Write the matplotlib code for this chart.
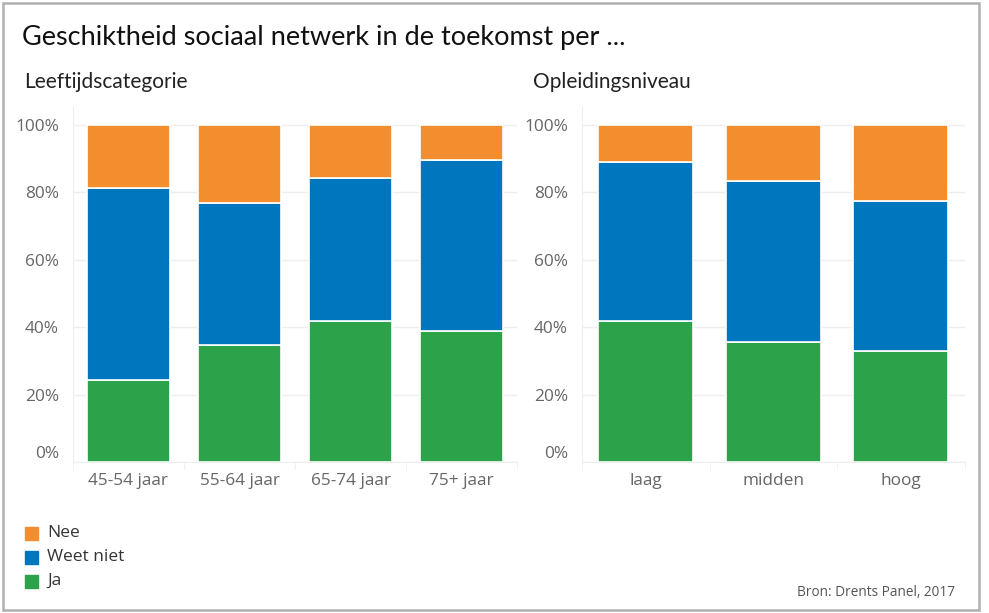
import matplotlib.pyplot as plt
from matplotlib.patches import Rectangle
from matplotlib.ticker import PercentFormatter

# Data (fractions per category)
leeftijd_cats = ["45-54 jaar", "55-64 jaar", "65-74 jaar", "75+ jaar"]
leeftijd_ja = [0.243, 0.347, 0.418, 0.389]
leeftijd_weet = [0.570, 0.422, 0.425, 0.507]
leeftijd_nee = [0.187, 0.231, 0.157, 0.104]

opleiding_cats = ["laag", "midden", "hoog"]
opleiding_ja = [0.418, 0.356, 0.329]
opleiding_weet = [0.472, 0.478, 0.445]
opleiding_nee = [0.110, 0.166, 0.226]

c_ja = "#2ca34b"
c_weet = "#0076bf"
c_nee = "#f28e2e"
grid_c = "#eeeeee"
tick_c = "#666666"

fig = plt.figure(figsize=(9.89, 6.13), dpi=100)

# grey frame around whole figure
W, H = 989, 613
fig.patches.append(Rectangle((3 / W, 3 / H), 976 / W, 607 / H, transform=fig.transFigure,
                             fill=False, edgecolor="#b0b0b0", linewidth=1.8))

fig.text(22 / W, 1 - 38 / H, "Geschiktheid sociaal netwerk in de toekomst per ...",
         fontsize=19.5, family="Lato", color="#111111", va="center")
fig.text(24 / W, 1 - 82 / H, "Leeftijdscategorie", fontsize=15, family="Lato",
         color="#222222", va="center")
fig.text(533 / W, 1 - 82 / H, "Opleidingsniveau", fontsize=15, family="Lato",
         color="#222222", va="center")


def panel(rect, cats, ja, weet, nee, width):
    ax = fig.add_axes(rect)
    x = range(len(cats))
    kw = dict(width=width, edgecolor="white", linewidth=1.2, zorder=3)
    ax.bar(x, ja, color=c_ja, **kw)
    ax.bar(x, weet, bottom=ja, color=c_weet, **kw)
    bottom2 = [a + b for a, b in zip(ja, weet)]
    ax.bar(x, nee, bottom=bottom2, color=c_nee, **kw)
    ax.set_xlim(-0.5, len(cats) - 0.5)
    ax.set_ylim(0, 1.053)
    ax.set_yticks([0, 0.2, 0.4, 0.6, 0.8, 1.0])
    ax.yaxis.set_major_formatter(PercentFormatter(1.0, decimals=0))
    ax.set_xticks(list(x))
    ax.set_xticklabels(cats)
    ax.set_xticks([i - 0.5 for i in range(len(cats) + 1)], minor=True)
    ax.tick_params(axis="x", which="major", length=0, pad=8, labelsize=12.4,
                   labelcolor=tick_c)
    ax.tick_params(axis="x", which="minor", length=5, color=grid_c)
    ax.tick_params(axis="y", length=0, pad=10, labelsize=12.4, labelcolor=tick_c)
    for lab in ax.get_yticklabels():
        lab.set_family("Open Sans")
    for lab in ax.get_xticklabels():
        lab.set_family("Open Sans")
    ax.get_yticklabels()[0].set_verticalalignment("bottom")
    ax.grid(axis="y", color=grid_c, linewidth=1, zorder=0)
    for s in ["top", "right"]:
        ax.spines[s].set_visible(False)
    ax.spines["left"].set_color(grid_c)
    ax.spines["bottom"].set_color(grid_c)
    return ax


panel([73 / W, 1 - 462 / H, 444 / W, 355 / H], leeftijd_cats,
      leeftijd_ja, leeftijd_weet, leeftijd_nee, 0.75)
panel([582 / W, 1 - 462 / H, 382.5 / W, 355 / H], opleiding_cats,
      opleiding_ja, opleiding_weet, opleiding_nee, 0.745)

# legend
legend_items = [("Nee", c_nee), ("Weet niet", c_weet), ("Ja", c_ja)]
for i, (name, col) in enumerate(legend_items):
    yc = 533 + i * 24
    fig.patches.append(Rectangle((25 / W, 1 - (yc + 6.5) / H), 13 / W, 13 / H,
                                 transform=fig.transFigure, color=col))
    fig.text(47 / W, 1 - yc / H, name, fontsize=12.5, family="Open Sans",
             color="#333333", va="center")

fig.text(955 / W, 1 - 593 / H, "Bron: Drents Panel, 2017", fontsize=9.8,
         family="Open Sans", color="#555555", va="center", ha="right")

plt.savefig("out.png", dpi=100)
